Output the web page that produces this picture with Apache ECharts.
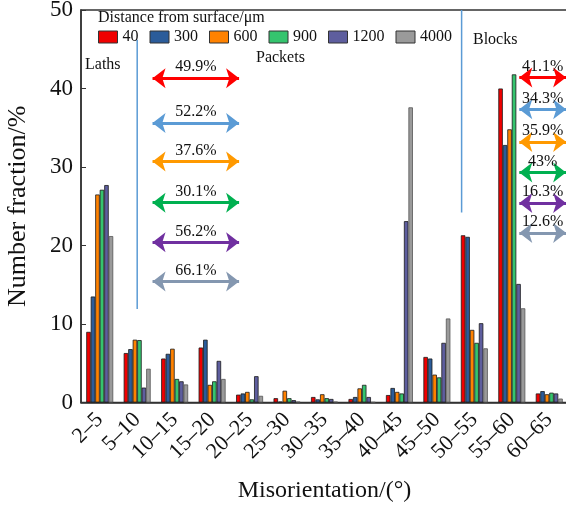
<!DOCTYPE html>
<html><head><meta charset="utf-8">
<script src="https://cdn.jsdelivr.net/npm/echarts@6/dist/echarts.min.js"></script>
<style>html,body{margin:0;padding:0;background:#fff}#c{width:566px;height:507px}</style>
</head><body><div id="c"></div>
<script>
const categories = ['2–5','5–10','10–15','15–20','20–25','25–30','30–35','35–40','40–45','45–50','50–55','55–60','60–65'];
const seriesNames = ['40','300','600','900','1200','4000'];
const d40   = [9.0, 6.3, 5.6, 7.0, 1.0, 0.55, 0.7, 0.45, 0.95, 5.8, 21.3, 40.0, 1.15];
const d300  = [13.5, 6.8, 6.2, 8.0, 1.15, 0.1, 0.4, 0.7, 1.85, 5.6, 21.1, 32.8, 1.45];
const d600  = [26.5, 8.0, 6.85, 2.25, 1.35, 1.5, 1.05, 1.8, 1.35, 3.55, 9.25, 34.8, 1.05];
const d900  = [27.1, 7.95, 3.0, 2.7, 0.4, 0.55, 0.55, 2.25, 1.15, 3.2, 7.6, 41.8, 1.25];
const d1200 = [27.7, 1.9, 2.7, 5.3, 3.35, 0.3, 0.45, 0.7, 23.1, 7.6, 10.1, 15.1, 1.15];
const d4000 = [21.2, 4.3, 2.3, 3.0, 0.85, 0.1, 0.1, 0.05, 37.6, 10.7, 6.9, 12.0, 0.5];
const yTicks = [0, 10, 20, 30, 40, 50];

// annotation arrows (percent labels)
const leftLabels  = ['49.9%','52.2%','37.6%','30.1%','56.2%','66.1%'];
const leftLevels  = [41.3, 35.6, 30.7, 25.45, 20.4, 15.4];
const rightLabels = ['41.1%','34.3%','35.9%','43%','16.3%','12.6%'];
const rightLevels = [41.4, 37.35, 33.2, 29.3, 25.4, 21.6];
const leftSpan  = [1.91, 4.22];
const rightSpan = [11.70, 12.95];
// separator lines (on a 0..13 position scale)
const sep1 = [[1.5, 11.9], [1.5, 46.2]];
const sep2 = [[10.16, 24.2], [10.16, 50]];

const barColors = ['#F00000','#2B5C9A','#FF8200','#35C46E','#5E5E9E','#9A9A9A'];
const arrowColors = ['#FF0000','#5B9BD5','#FF9900','#00B050','#7030A0','#8497B0'];
const FONT = '"Liberation Serif","Times New Roman",serif';

const chart = echarts.init(document.getElementById('c'), null, {renderer:'canvas'});
const dataSets = [d40,d300,d600,d900,d1200,d4000];

const series = dataSets.map((d,i)=>({
  name: seriesNames[i], type:'bar', data:d, xAxisIndex:0,
  barGap:'0%', barCategoryGap:'28%',
  itemStyle:{color:barColors[i], borderColor: i===5?'#555':'#1a1a1a', borderWidth:0.8},
  animation:false
}));

function arrowLines(labels, levels, span){
  return labels.map((t,i)=>[
    {coord:[span[0], levels[i]], lineStyle:{color:arrowColors[i]}, itemStyle:{color:arrowColors[i]}, label:{formatter:t}},
    {coord:[span[1], levels[i]]}
  ]);
}

series.push({
  type:'line', xAxisIndex:1, data:[], silent:true, animation:false,
  markLine:{
    silent:true, animation:false,
    symbol:['arrow','arrow'], symbolSize:[15,13],
    lineStyle:{width:3, type:'solid'},
    label:{show:true, position:'middle', color:'#111', fontFamily:FONT, fontSize:16, distance:3},
    data: arrowLines(leftLabels, leftLevels, leftSpan).concat(arrowLines(rightLabels, rightLevels, rightSpan))
  }
});
[sep1, sep2].forEach(s=>series.push({
  type:'line', xAxisIndex:1, data:s, symbol:'none', silent:true, animation:false,
  lineStyle:{color:'#5B9BD5', width:1.5}
}));

chart.setOption({
  animation:false,
  title:{text:'Distance from surface/μm', left:98, top:10, padding:0,
    textStyle:{fontFamily:FONT, fontSize:16, fontWeight:'normal', color:'#111'}},
  legend:{data:seriesNames, left:98, top:29, padding:0, icon:'rect', itemWidth:19, itemHeight:12, itemGap:11,
    textStyle:{fontFamily:FONT, fontSize:16, color:'#111'},
    itemStyle:{borderColor:'#333', borderWidth:1}},
  grid:{left:81, top:10, width:487, height:392.5, outerBoundsMode:'none', containLabel:false,
    show:true, borderColor:'#333', borderWidth:1.5, backgroundColor:'transparent'},
  xAxis:[{
    type:'category', data:categories,
    axisLine:{show:true, lineStyle:{color:'#333', width:1.5}},
    axisTick:{show:false},
    axisLabel:{rotate:45, interval:0, fontFamily:FONT, fontSize:22, color:'#111', margin:14},
    name:'Misorientation/(°)', nameLocation:'middle', nameGap:76,
    nameTextStyle:{fontFamily:FONT, fontSize:24, color:'#111'}
  },{
    type:'value', min:0, max:13, show:false
  }],
  yAxis:{
    type:'value', min:0, max:50, interval:10,
    axisLine:{show:true, lineStyle:{color:'#333', width:1.5}},
    axisTick:{show:true, inside:true, length:5, lineStyle:{color:'#333'}},
    splitLine:{show:false},
    axisLabel:{fontFamily:FONT, fontSize:23, color:'#111', margin:8,
      formatter:v=>yTicks.includes(v)?String(v):''},
    name:'Number fraction/%', nameLocation:'middle', nameGap:50,
    nameTextStyle:{fontFamily:FONT, fontSize:26, color:'#111'}
  },
  graphic:[
    {type:'text', left:85, top:57, style:{text:'Laths', font:'16px '+FONT, fill:'#111'}},
    {type:'text', left:256, top:50, style:{text:'Packets', font:'16px '+FONT, fill:'#111'}},
    {type:'text', left:473, top:32, style:{text:'Blocks', font:'16px '+FONT, fill:'#111'}}
  ],
  series: series
});
</script></body></html>
